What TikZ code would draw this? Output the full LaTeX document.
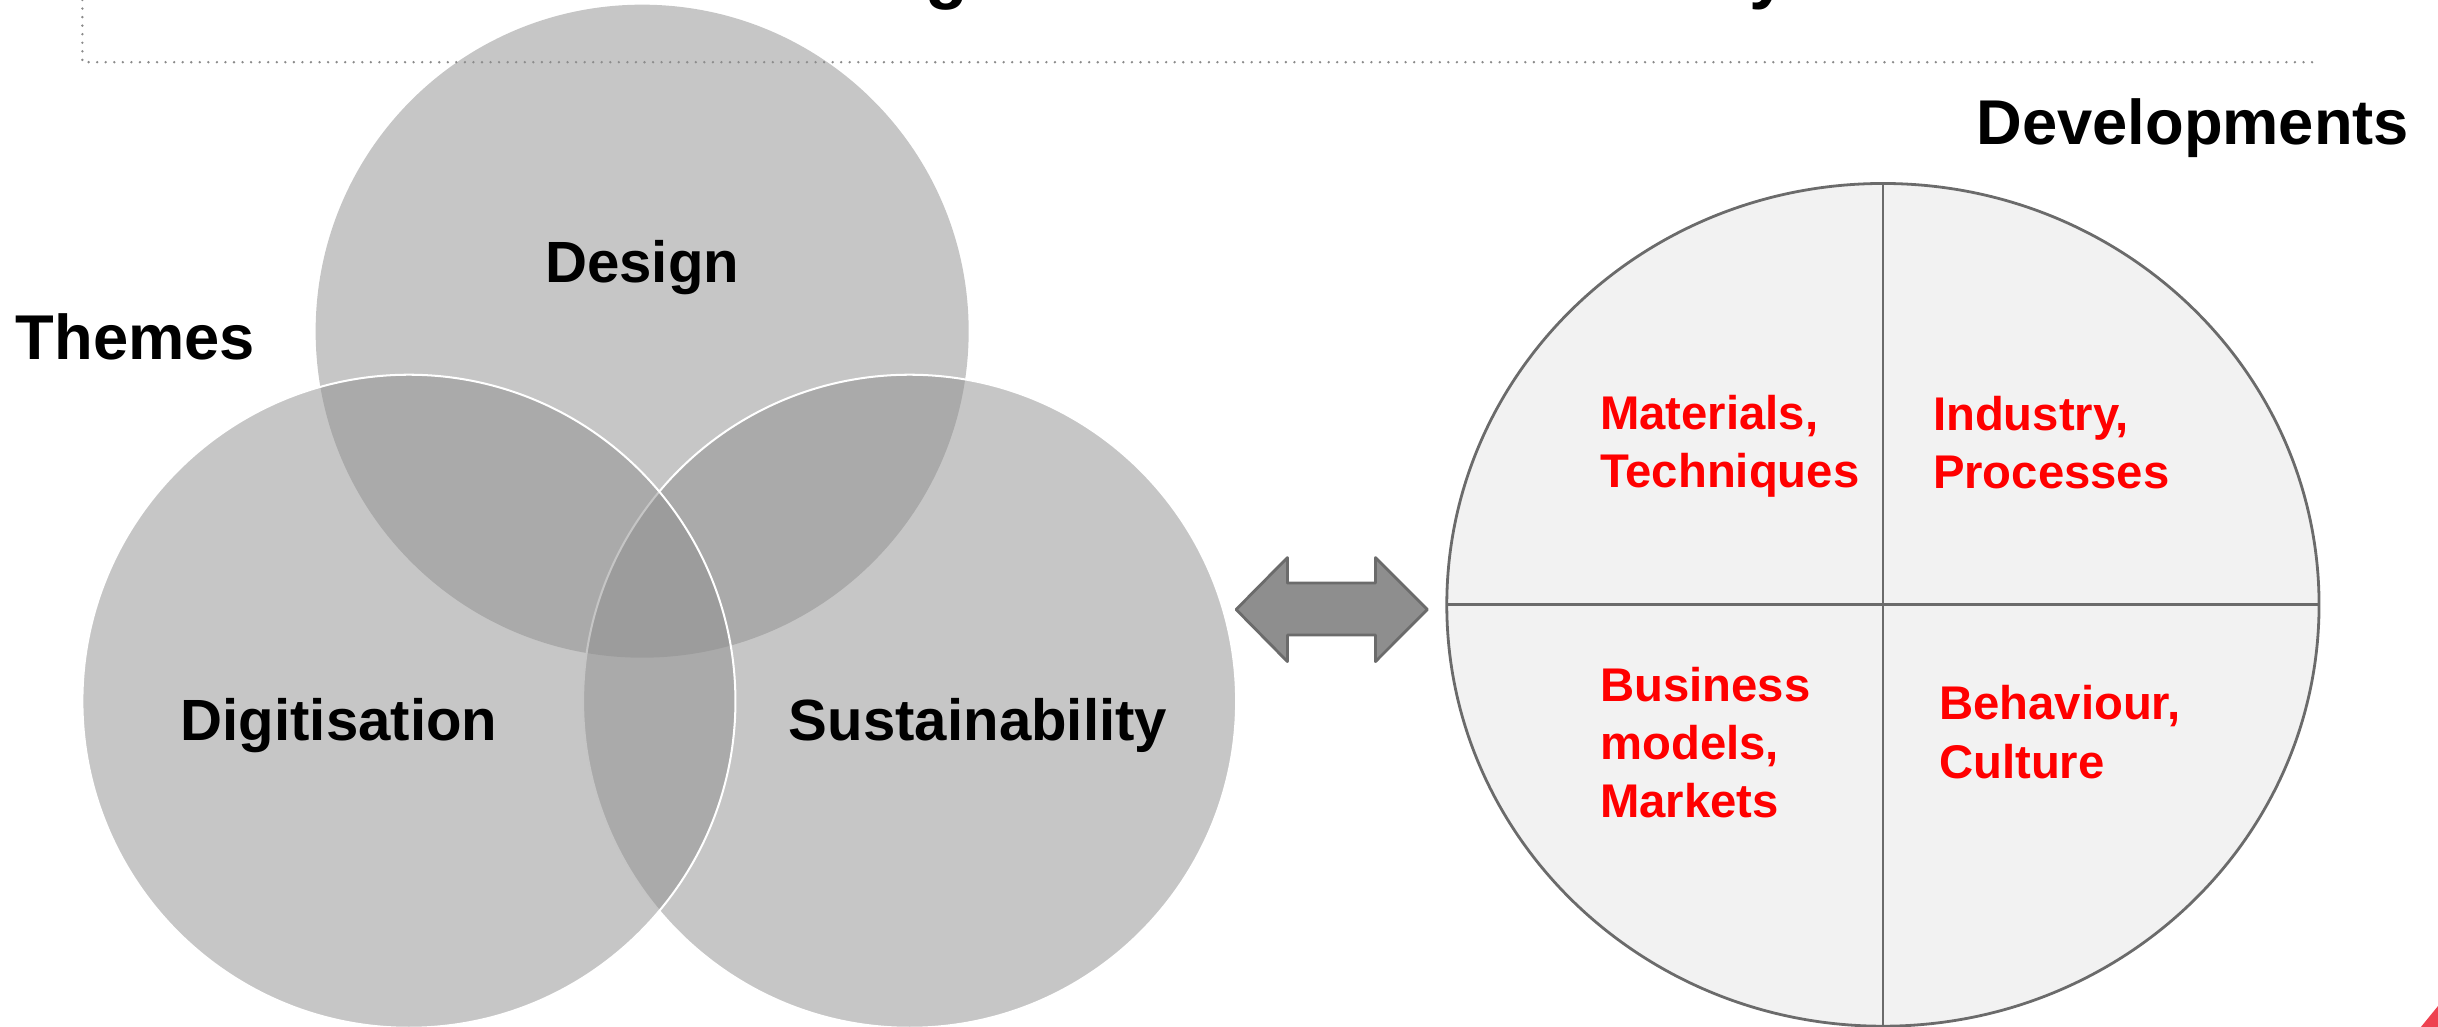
\documentclass[tikz,border=0pt]{standalone}
\usepackage{fontspec}
\setmainfont{Liberation Sans}
\usetikzlibrary{shapes.geometric}
\definecolor{venngray}{RGB}{143,143,143}
\definecolor{ellfill}{RGB}{242,242,242}
\definecolor{ellline}{RGB}{107,107,107}
\definecolor{arrfill}{RGB}{142,142,142}
\definecolor{dotgray}{RGB}{138,138,138}
\definecolor{logored}{RGB}{238,66,80}
\begin{document}
\begin{tikzpicture}[x=1pt,y=-1pt,
  venn/.style={circle, minimum size=420pt, inner sep=0pt, outer sep=0pt, fill=venngray, fill opacity=0.51},
  vennline/.style={draw=white, line width=1.3pt, draw opacity=1},
  headtext/.style={font=\fontsize{40.7}{48}\selectfont\bfseries, anchor=base west, inner sep=0pt},
  venntext/.style={font=\fontsize{37.4}{44}\selectfont\bfseries, anchor=base, inner sep=0pt},
  redtext/.style={font=\fontsize{30.4}{37}\selectfont\bfseries, text=red, anchor=base west, inner sep=0pt},
  titletext/.style={font=\fontsize{45}{50}\selectfont\bfseries, anchor=base west, inner sep=0pt},
  dotline/.style={draw=dotgray, line width=1.7pt, line cap=round, dash pattern=on 0pt off 5.5pt},
  divider/.style={draw=ellline, line width=1.8pt},
  arrowshape/.style={draw=ellline, fill=arrfill, line width=1.8pt, line join=round},
]
\useasboundingbox (0,0) rectangle (1568,660.5);
\begin{scope}
\clip (0,0) rectangle (1568,660.5);
% cut-off title fragments
\node[titletext] (tg) at (595,-3) {g};
\node[titletext] (ty) at (1125,-3) {y};

% dotted frame
\coordinate (f1) at (53,0);
\coordinate (f2) at (53,40);
\coordinate (f3) at (1492,40);
\draw[dotline] (f1) -- (f2) -- (f3);

% Venn circles
\node[venn] (design) at (413,213) {};
\node[venn, vennline] (sust) at (585,451) {};
\node[venn, vennline] (digit) at (263,451) {};

\node[venntext] (tdesign) at (413,182) {Design};
\node[venntext] (tdigit) at (218,476) {Digitisation};
\node[venntext] (tsust) at (629,476) {Sustainability};

\node[headtext] (themes) at (10,231.5) {Themes};
\node[headtext] (devs) at (1271,93) {Developments};

% double arrow
\draw[arrowshape] (795,392) -- (828,358.6) -- (828,375) -- (884.6,375) -- (884.6,358.6)
  -- (918,392) -- (884.6,425.5) -- (884.6,408.4) -- (828,408.4) -- (828,425.5) -- cycle;

% developments ellipse
\node[ellipse, draw=ellline, fill=ellfill, line width=1.8pt, minimum width=561pt,
      minimum height=542pt, inner sep=0pt, outer sep=0pt] (dev) at (1211,389) {};
\draw[divider] (dev.north) -- (dev.south);
\draw[divider] (dev.west) -- (dev.east);

\node[redtext] (m1) at (1029,276) {Materials,};
\node[redtext] (m2) at (1029,313.4) {Techniques};
\node[redtext] (i1) at (1243,277) {Industry,};
\node[redtext] (i2) at (1243,314.4) {Processes};
\node[redtext] (b1) at (1029,451) {Business};
\node[redtext] (b2) at (1029,488.4) {models,};
\node[redtext] (b3) at (1029,525.8) {Markets};
\node[redtext] (c1) at (1247,463) {Behaviour,};
\node[redtext] (c2) at (1247,500.4) {Culture};

% red logo corner
\fill[logored] (1568,647) -- (1557,660.5) -- (1568,660.5) -- cycle;
\end{scope}
\end{tikzpicture}
\end{document}
